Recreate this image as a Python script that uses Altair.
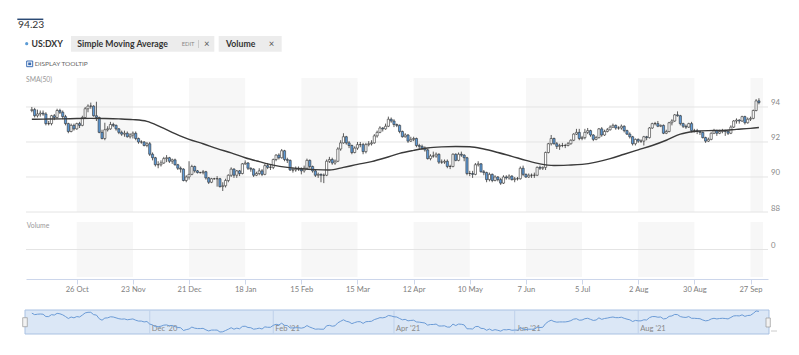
import altair as alt
import pandas as pd

# ---------------- data ----------------
dates = [d.strftime("%Y-%m-%d") for d in pd.bdate_range("2020-10-02", "2021-09-30")]

open_ = [
    93.80,
    93.85, 93.50, 93.60, 93.65, 93.60,
    93.05, 93.05, 93.50, 93.40, 93.80,
    93.70, 93.45, 93.05, 92.60, 92.95,
    92.75, 93.05, 92.95, 93.40, 93.90,
    94.05, 94.05, 93.50, 93.40, 92.55,
    92.20, 92.70, 92.75, 93.00, 92.95,
    92.75, 92.55, 92.45, 92.50, 92.30,
    92.40, 92.50, 92.20, 92.00, 92.00,
    91.80, 91.90, 91.30, 91.10, 90.70,
    90.70, 90.80, 91.05, 91.10, 90.90,
    90.98, 90.70, 90.50, 90.45, 89.80,
    90.00, 90.15, 90.60, 90.35, 90.25,
    90.25, 90.30, 89.95, 89.70, 89.90,
    89.90, 89.90, 89.45, 89.50, 89.80,
    90.10, 90.45, 90.10, 90.35, 90.20,
    90.75, 90.80, 90.50, 90.45, 90.10,
    90.20, 90.35, 90.15, 90.65, 90.55,
    90.55, 91.00, 91.25, 91.10, 91.50,
    91.00, 90.95, 90.40, 90.40, 90.45,
    90.45, 90.35, 90.50, 90.95, 90.60,
    90.35, 90.10, 90.15, 90.10, 90.10,
    90.90, 91.00, 90.80, 90.90, 91.60,
    91.95, 92.30, 91.95, 91.80, 91.40,
    91.65, 91.85, 91.85, 91.45, 91.85,
    91.90, 91.95, 92.35, 92.55, 92.80,
    92.75, 92.90, 93.30, 93.20, 93.00,
    92.95, 92.60, 92.30, 92.40, 92.05,
    92.15, 92.20, 91.80, 91.75, 91.65,
    91.55, 91.05, 91.20, 91.20, 91.30,
    90.85, 90.85, 90.90, 90.60, 90.60,
    91.30, 90.95, 91.30, 91.25, 91.10,
    90.20, 90.20, 90.15, 90.70, 90.75,
    90.30, 90.25, 89.85, 90.15, 89.80,
    90.00, 89.85, 89.65, 90.00, 89.95,
    90.05, 89.85, 89.90, 89.90, 90.50,
    90.15, 90.00, 90.10, 90.10, 90.10,
    90.55, 90.50, 90.55, 91.40, 91.90,
    92.20, 91.90, 91.75, 91.80, 91.80,
    91.80, 91.90, 92.10, 92.45, 92.55,
    92.20, 92.25, 92.55, 92.65, 92.40,
    92.15, 92.25, 92.75, 92.40, 92.60,
    92.70, 92.85, 92.95, 92.80, 92.80,
    92.90, 92.65, 92.45, 92.30, 91.90,
    92.15, 92.05, 92.05, 92.30, 92.25,
    92.80, 93.05, 93.05, 92.90, 92.95,
    92.50, 92.60, 93.10, 93.20, 93.55,
    93.50, 93.05, 92.90, 92.85, 93.05,
    92.65, 92.65, 92.60, 92.55, 92.25,
    92.05, 92.15, 92.50, 92.65, 92.50,
    92.60, 92.65, 92.60, 92.50, 92.85,
    93.20, 93.25, 93.20, 93.45, 93.10,
    93.30, 93.35, 93.80, 94.35,
]

high = [
    94.00,
    93.95, 93.85, 93.80, 93.80, 93.70,
    93.20, 93.55, 93.60, 93.90, 93.90,
    93.80, 93.55, 93.10, 93.05, 93.05,
    93.10, 93.15, 93.50, 94.00, 94.15,
    94.25, 94.10, 94.30, 93.45, 92.70,
    93.10, 92.90, 93.15, 93.10, 93.00,
    92.80, 92.65, 92.65, 92.60, 92.50,
    92.60, 92.60, 92.25, 92.10, 92.05,
    92.00, 92.00, 91.40, 91.15, 90.90,
    90.95, 91.15, 91.25, 91.15, 91.05,
    91.05, 90.75, 90.60, 90.50, 90.10,
    90.90, 90.70, 90.65, 90.40, 90.30,
    90.40, 90.35, 90.00, 89.95, 89.95,
    90.05, 89.95, 89.70, 89.90, 90.15,
    90.55, 90.50, 90.40, 90.40, 90.80,
    90.95, 90.85, 90.55, 90.50, 90.30,
    90.50, 90.45, 90.75, 90.80, 90.70,
    91.05, 91.30, 91.35, 91.60, 91.55,
    91.10, 91.00, 90.55, 90.60, 90.60,
    90.55, 90.65, 91.05, 91.00, 90.65,
    90.40, 90.25, 90.20, 90.20, 91.00,
    91.15, 91.10, 91.00, 91.70, 92.10,
    92.50, 92.35, 92.05, 91.85, 91.75,
    92.00, 92.00, 91.95, 91.95, 92.05,
    92.10, 92.45, 92.65, 92.90, 92.85,
    93.05, 93.45, 93.40, 93.30, 93.05,
    93.00, 92.65, 92.50, 92.45, 92.30,
    92.30, 92.25, 91.90, 91.85, 91.75,
    91.60, 91.30, 91.45, 91.40, 91.35,
    91.00, 91.00, 91.00, 90.70, 91.35,
    91.35, 91.40, 91.45, 91.30, 91.15,
    90.35, 90.35, 90.80, 90.90, 90.80,
    90.40, 90.30, 90.25, 90.20, 90.10,
    90.05, 89.95, 90.10, 90.10, 90.15,
    90.10, 90.00, 90.00, 90.60, 90.65,
    90.20, 90.20, 90.20, 90.25, 90.60,
    90.65, 90.60, 91.45, 91.95, 92.40,
    92.25, 92.00, 91.90, 91.95, 91.90,
    92.00, 92.15, 92.50, 92.75, 92.75,
    92.35, 92.75, 92.80, 92.70, 92.45,
    92.35, 92.80, 92.85, 92.70, 92.80,
    92.95, 93.05, 93.00, 92.90, 93.00,
    92.95, 92.70, 92.55, 92.35, 92.20,
    92.20, 92.15, 92.35, 92.35, 92.85,
    93.10, 93.15, 93.20, 93.00, 93.00,
    92.70, 93.15, 93.30, 93.60, 93.75,
    93.55, 93.10, 93.00, 93.10, 93.15,
    92.75, 92.75, 92.65, 92.60, 92.30,
    92.25, 92.55, 92.75, 92.70, 92.70,
    92.75, 92.70, 92.65, 92.95, 93.25,
    93.35, 93.30, 93.50, 93.50, 93.40,
    93.45, 93.85, 94.45, 94.50,
]

low = [
    93.70,
    93.40, 93.40, 93.45, 93.50, 92.95,
    92.95, 92.95, 93.25, 93.35, 93.60,
    93.30, 92.95, 92.50, 92.55, 92.65,
    92.70, 92.80, 92.90, 93.35, 93.70,
    93.90, 93.45, 93.20, 92.50, 92.15,
    92.10, 92.60, 92.70, 92.85, 92.65,
    92.45, 92.35, 92.30, 92.25, 92.20,
    92.20, 92.10, 91.90, 91.90, 91.75,
    91.70, 91.20, 90.95, 90.60, 90.50,
    90.60, 90.75, 90.85, 90.80, 90.75,
    90.65, 90.40, 90.25, 89.75, 89.70,
    89.85, 90.10, 90.25, 90.20, 90.20,
    90.15, 89.85, 89.60, 89.65, 89.85,
    89.45, 89.40, 89.20, 89.40, 89.70,
    90.00, 89.95, 89.95, 90.05, 90.15,
    90.70, 90.40, 90.30, 90.00, 90.05,
    90.10, 90.05, 90.10, 90.45, 90.40,
    90.45, 90.90, 91.00, 91.05, 90.90,
    90.80, 90.35, 90.25, 90.30, 90.35,
    90.15, 90.25, 90.45, 90.50, 90.25,
    90.00, 89.95, 89.70, 89.65, 90.05,
    90.80, 90.70, 90.70, 90.85, 91.50,
    91.90, 91.85, 91.65, 91.30, 91.35,
    91.55, 91.70, 91.30, 91.35, 91.75,
    91.80, 91.90, 92.25, 92.50, 92.60,
    92.70, 92.85, 93.10, 92.85, 92.85,
    92.50, 92.25, 92.25, 91.95, 92.00,
    92.05, 91.70, 91.60, 91.55, 91.45,
    91.00, 90.95, 91.10, 91.10, 90.75,
    90.75, 90.75, 90.50, 90.45, 90.55,
    90.90, 90.90, 91.15, 90.90, 90.10,
    90.05, 89.95, 90.10, 90.60, 90.25,
    90.10, 89.70, 89.75, 89.70, 89.75,
    89.75, 89.55, 89.60, 89.85, 89.85,
    89.80, 89.70, 89.80, 89.85, 90.05,
    89.95, 89.95, 89.95, 89.95, 90.05,
    90.40, 90.40, 90.40, 91.35, 91.80,
    91.85, 91.60, 91.55, 91.70, 91.65,
    91.75, 91.85, 92.05, 92.40, 92.10,
    92.10, 92.15, 92.45, 92.30, 92.05,
    92.10, 92.20, 92.30, 92.35, 92.55,
    92.65, 92.80, 92.70, 92.70, 92.70,
    92.55, 92.40, 92.20, 91.80, 91.80,
    91.95, 91.95, 91.80, 92.10, 92.20,
    92.75, 92.95, 92.85, 92.85, 92.45,
    92.45, 92.55, 92.95, 93.15, 93.45,
    92.95, 92.80, 92.75, 92.80, 92.55,
    92.55, 92.45, 92.40, 92.20, 91.95,
    92.00, 92.10, 92.45, 92.35, 92.45,
    92.50, 92.35, 92.40, 92.45, 92.80,
    93.05, 93.05, 93.15, 93.00, 93.05,
    93.20, 93.30, 93.75, 94.15,
]

close = [
    93.85,
    93.50, 93.60, 93.65, 93.60, 93.05,
    93.05, 93.50, 93.40, 93.80, 93.70,
    93.45, 93.05, 92.60, 92.95, 92.75,
    93.05, 92.95, 93.40, 93.90, 94.05,
    94.05, 93.50, 93.40, 92.55, 92.20,
    92.70, 92.75, 93.00, 92.95, 92.75,
    92.55, 92.45, 92.50, 92.30, 92.40,
    92.50, 92.20, 92.00, 92.00, 91.80,
    91.90, 91.30, 91.10, 90.70, 90.70,
    90.80, 91.05, 91.10, 90.90, 90.98,
    90.70, 90.50, 90.45, 89.80, 90.00,
    90.15, 90.60, 90.35, 90.25, 90.25,
    90.30, 89.95, 89.70, 89.90, 89.90,
    89.90, 89.45, 89.50, 89.80, 90.10,
    90.45, 90.10, 90.35, 90.20, 90.75,
    90.80, 90.50, 90.45, 90.10, 90.20,
    90.35, 90.15, 90.65, 90.55, 90.55,
    91.00, 91.25, 91.10, 91.50, 91.00,
    90.95, 90.40, 90.40, 90.45, 90.45,
    90.35, 90.50, 90.95, 90.60, 90.35,
    90.10, 90.15, 90.10, 90.10, 90.90,
    91.00, 90.80, 90.90, 91.60, 91.95,
    92.30, 91.95, 91.80, 91.40, 91.65,
    91.85, 91.85, 91.45, 91.85, 91.90,
    91.95, 92.35, 92.55, 92.80, 92.75,
    92.90, 93.30, 93.20, 93.00, 92.95,
    92.60, 92.30, 92.40, 92.05, 92.15,
    92.20, 91.80, 91.75, 91.65, 91.55,
    91.05, 91.20, 91.20, 91.30, 90.85,
    90.85, 90.90, 90.60, 90.60, 91.30,
    90.95, 91.30, 91.25, 91.10, 90.20,
    90.20, 90.15, 90.70, 90.75, 90.30,
    90.25, 89.85, 90.15, 89.80, 90.00,
    89.85, 89.65, 90.00, 89.95, 90.05,
    89.85, 89.90, 89.90, 90.50, 90.15,
    90.00, 90.10, 90.10, 90.10, 90.55,
    90.50, 90.55, 91.40, 91.90, 92.20,
    91.90, 91.75, 91.80, 91.80, 91.80,
    91.90, 92.10, 92.45, 92.55, 92.20,
    92.25, 92.55, 92.65, 92.40, 92.15,
    92.25, 92.75, 92.40, 92.60, 92.70,
    92.85, 92.95, 92.80, 92.80, 92.90,
    92.65, 92.45, 92.30, 91.90, 92.15,
    92.05, 92.05, 92.30, 92.25, 92.80,
    93.05, 93.05, 92.90, 92.95, 92.50,
    92.60, 93.10, 93.20, 93.55, 93.50,
    93.05, 92.90, 92.85, 93.05, 92.65,
    92.65, 92.60, 92.55, 92.25, 92.05,
    92.15, 92.50, 92.65, 92.50, 92.60,
    92.65, 92.60, 92.50, 92.85, 93.20,
    93.25, 93.20, 93.45, 93.10, 93.30,
    93.35, 93.80, 94.35, 94.25,
]

sma_dates = [
    "2020-10-02", "2020-10-05", "2020-10-12", "2020-10-19", "2020-10-26",
    "2020-11-02", "2020-11-09", "2020-11-16", "2020-11-23", "2020-11-30",
    "2020-12-07", "2020-12-14", "2020-12-21", "2020-12-28", "2021-01-04",
    "2021-01-11", "2021-01-18", "2021-01-25", "2021-02-01", "2021-02-08",
    "2021-02-15", "2021-02-22", "2021-03-01", "2021-03-08", "2021-03-15",
    "2021-03-22", "2021-03-29", "2021-04-05", "2021-04-12", "2021-04-19",
    "2021-04-26", "2021-05-03", "2021-05-10", "2021-05-17", "2021-05-24",
    "2021-05-31", "2021-06-07", "2021-06-14", "2021-06-21", "2021-06-28",
    "2021-07-05", "2021-07-12", "2021-07-19", "2021-07-26", "2021-08-02",
    "2021-08-09", "2021-08-16", "2021-08-23", "2021-08-30", "2021-09-06",
    "2021-09-13", "2021-09-20", "2021-09-27", "2021-09-30",
]
sma_values = [
    93.30, 93.30, 93.31, 93.32, 93.34, 93.35, 93.34, 93.32, 93.28, 93.18,
    92.85, 92.48, 92.15, 91.90, 91.62, 91.38, 91.10, 90.88, 90.68, 90.55,
    90.47, 90.42, 90.40, 90.55, 90.72, 90.88, 91.10, 91.35, 91.52, 91.66,
    91.72, 91.74, 91.73, 91.60, 91.40, 91.18, 90.95, 90.75, 90.66, 90.68,
    90.72, 90.85, 91.05, 91.30, 91.55, 91.80, 92.10, 92.45, 92.60, 92.65,
    92.66, 92.72, 92.78, 92.83,
]

tick_dates = ["2020-10-26", "2020-11-23", "2020-12-21", "2021-01-18", "2021-02-15",
              "2021-03-15", "2021-04-12", "2021-05-10", "2021-06-07", "2021-07-05",
              "2021-08-02", "2021-08-30", "2021-09-27"]
tick_labels = ["26 Oct", "23 Nov", "21 Dec", "18 Jan", "15 Feb", "15 Mar", "12 Apr",
               "10 May", "7 Jun", "5 Jul", "2 Aug", "30 Aug", "27 Sep"]

band_starts = ["2020-10-26", "2020-12-21", "2021-02-15", "2021-04-12", "2021-06-07",
               "2021-08-02", "2021-09-27"]
band_ends = ["2020-11-23", "2021-01-18", "2021-03-15", "2021-05-10", "2021-07-05",
             "2021-08-30", None]

nav_month_dates = ["2020-12-01", "2021-02-01", "2021-04-01", "2021-06-01", "2021-08-02"]
nav_month_labels = ["Dec '20", "Feb '21", "Apr '21", "Jun '21", "Aug '21"]

price_ticks = [88, 90, 92, 94]
volume_ticks = [0]

last_value = "94.23"
symbol_label = "US:DXY"
pill_labels = ["Simple Moving Average", "Volume"]
edit_label = "EDIT"
close_glyph = "\u00d7"
tooltip_label = "DISPLAY TOOLTIP"
sma_label = "SMA(50)"
volume_label = "Volume"

# ---------------- build ----------------
N = len(dates)
assert N == 260, N
assert len(open_) == N and len(high) == N and len(low) == N and len(close) == N

idx_of = {d: i for i, d in enumerate(dates)}
x_domain = [-0.3, 260.45]

df = pd.DataFrame({
    "idx": list(range(N)), "date": dates,
    "open": open_, "high": high, "low": low, "close": close,
})
df["dir"] = ["up" if c >= o else "down" for o, c in zip(open_, close)]

sma_df = pd.DataFrame({"idx": [idx_of[d] for d in sma_dates], "sma": sma_values})

tick_idx = [idx_of[d] for d in tick_dates]
expr = ""
for i, lab in zip(tick_idx, tick_labels):
    expr += f"datum.value == {i} ? '{lab}' : "
expr += "''"

P_TOP, P_BOT = 95.657, 88.0
bands_df = pd.DataFrame({
    "s": [idx_of[d] for d in band_starts],
    "e": [idx_of[d] if d else x_domain[1] for d in band_ends],
    "ptop": P_TOP, "pbot": P_BOT, "vtop": 1.0, "vbot": -1.0,
})

nav_df = pd.DataFrame({"idx": [idx_of[d] for d in nav_month_dates], "label": nav_month_labels})

FONT = "Lato"
xs = alt.Scale(domain=x_domain, nice=False, zero=False)
xaxis = alt.Axis(values=tick_idx, labelExpr=expr, title=None, grid=False,
                 domainColor="#ccd6eb", tickColor="#ccd6eb", tickSize=5,
                 labelFont=FONT, labelFontSize=7.6, labelColor="#808080",
                 labelPadding=1, labelFlush=False, labelOverlap=False)


def X(field):
    return alt.X(field, type="quantitative", scale=xs, axis=xaxis)


ps = alt.Scale(domain=[P_BOT, P_TOP], range=[204, 70], nice=False, zero=False)
vs = alt.Scale(domain=[-1, 1], range=[269, 214], nice=False, zero=False)
ns = alt.Scale(domain=[89.45, 94.35], range=[324, 303], nice=False, zero=False)


def txt(s, x, y, size, color, weight="normal", align="left"):
    return alt.Chart(pd.DataFrame({"t": [s]})).mark_text(
        align=align, baseline="middle", font=FONT, fontSize=size,
        fontWeight=weight, color=color
    ).encode(x=alt.value(x), y=alt.value(y), text="t:N")


def box(x, x2, y, y2, fill, stroke=None, sw=0):
    kw = dict(fill=fill)
    if stroke:
        kw.update(stroke=stroke, strokeWidth=sw)
    return alt.Chart(pd.DataFrame({"a": [0]})).mark_rect(**kw).encode(
        x=alt.value(x), x2=alt.value(x2), y=alt.value(y), y2=alt.value(y2))


def hline(x, x2, y, color, sw=1):
    return alt.Chart(pd.DataFrame({"a": [0]})).mark_rule(color=color, strokeWidth=sw).encode(
        x=alt.value(x), x2=alt.value(x2), y=alt.value(y))


def vline(x, y, y2, color, sw=1):
    return alt.Chart(pd.DataFrame({"a": [0]})).mark_rule(color=color, strokeWidth=sw).encode(
        x=alt.value(x), y=alt.value(y), y2=alt.value(y2))


layers = []

# shaded bands
layers.append(alt.Chart(bands_df).mark_rect(color="#f7f7f7").encode(
    x=X("s"), x2="e", y=alt.Y("ptop:Q", scale=ps, axis=None), y2="pbot:Q"))
layers.append(alt.Chart(bands_df).mark_rect(color="#f7f7f7").encode(
    x=X("s"), x2="e", y=alt.Y("vtop:Q", scale=vs, axis=None), y2="vbot:Q"))

# gridlines + right labels
layers.append(alt.Chart(pd.DataFrame({"v": price_ticks})).mark_rule(color="#e4e4e4").encode(
    x=alt.value(0), x2=alt.value(742), y=alt.Y("v:Q", scale=ps, axis=None)))
layers.append(alt.Chart(pd.DataFrame({"v": price_ticks})).mark_text(
    align="left", baseline="middle", dy=-3.5, font=FONT, fontSize=7.8, color="#888").encode(
    x=alt.value(745), y=alt.Y("v:Q", scale=ps, axis=None), text="v:N"))
layers.append(alt.Chart(pd.DataFrame({"v": volume_ticks})).mark_rule(color="#e4e4e4").encode(
    x=alt.value(0), x2=alt.value(742), y=alt.Y("v:Q", scale=vs, axis=None)))
layers.append(alt.Chart(pd.DataFrame({"v": volume_ticks})).mark_text(
    align="left", baseline="middle", dy=-3.5, font=FONT, fontSize=7.8, color="#888").encode(
    x=alt.value(745), y=alt.Y("v:Q", scale=vs, axis=None), text="v:N"))

# candles
layers.append(alt.Chart(df).mark_rule(color="#333", strokeWidth=0.8).encode(
    x=X("idx"), y=alt.Y("low:Q", scale=ps, axis=None), y2="high:Q"))
layers.append(alt.Chart(df).mark_bar(size=2.2, stroke="#333", strokeWidth=0.6).encode(
    x=X("idx"), y=alt.Y("open:Q", scale=ps, axis=None), y2="close:Q",
    fill=alt.Fill("dir:N", scale=alt.Scale(domain=["up", "down"], range=["#ffffff", "#5e9bd8"]),
                  legend=None)))

# SMA line
layers.append(alt.Chart(sma_df).mark_line(color="#3a3a3a", strokeWidth=1.4, interpolate="monotone").encode(
    x=X("idx"), y=alt.Y("sma:Q", scale=ps, axis=None)))

# panel labels
layers.append(txt(sma_label, 0, 72, 6.8, "#999"))
layers.append(txt(volume_label, 0.7, 217.7, 6.8, "#999"))

# navigator
layers.append(box(-1, 743, 302, 326, "#dbe7f6", "#a9c1e2", 1))
layers.append(alt.Chart(nav_df).mark_rule(color="#bfd1ea", strokeWidth=1).encode(
    x=X("idx"), y=alt.value(302), y2=alt.value(326)))
layers.append(alt.Chart(nav_df).mark_text(align="left", baseline="middle", dx=2, font=FONT,
                                          fontSize=7.6, color="#888").encode(
    x=X("idx"), y=alt.value(320.5), text="label:N"))
layers.append(alt.Chart(df).mark_line(color="#6b9bd6", strokeWidth=1).encode(
    x=X("idx"), y=alt.Y("close:Q", scale=ns, axis=None)))
layers.append(box(-3.3, 1.3, 309.7, 318.7, "#f2f2f2", "#999", 0.7))
layers.append(box(740, 744.3, 310, 319, "#f2f2f2", "#999", 0.7))
layers.append(hline(745, 751, 323, "#cccccc"))

# header
layers.append(hline(-8.7, 17.3, 11.3, "#2b4a75", 1.5))
layers.append(txt(last_value, -8, 17, 10.3, "#333"))
layers.append(alt.Chart(pd.DataFrame({"a": [0]})).mark_point(
    filled=True, size=10, color="#5b9bd5", opacity=1).encode(x=alt.value(0.7), y=alt.value(35.7)))
layers.append(txt(symbol_label, 5.5, 36, 8.7, "#333", "bold"))
layers.append(box(45, 188.3, 28, 43.7, "#ececec"))
layers.append(txt(pill_labels[0], 51.3, 36, 8.7, "#333", "bold"))
layers.append(txt(edit_label, 155.7, 36, 5.8, "#888"))
layers.append(vline(172.5, 32, 40, "#cccccc"))
layers.append(txt(close_glyph, 178, 36, 9.5, "#555"))
layers.append(box(192.7, 255.7, 28, 43.7, "#ececec"))
layers.append(txt(pill_labels[1], 200, 36, 8.7, "#333", "bold"))
layers.append(txt(close_glyph, 242.7, 36, 9.5, "#555"))
layers.append(box(0.7, 6.7, 53, 58.7, "#ffffff", "#3b6db3", 1))
layers.append(box(2.2, 5.2, 54.5, 57.2, "#3b6db3"))
layers.append(txt(tooltip_label, 8.7, 56, 6.5, "#666"))

chart = alt.layer(*layers).resolve_scale(y="independent").properties(
    width=742, height=271,
    autosize=alt.AutoSizeParams(type="none"),
    padding={"left": 18, "top": 0, "right": 23, "bottom": 68},
    background="white",
).configure_view(stroke=None)

chart.save("out.html", embed_options={"renderer": "svg", "actions": False})
